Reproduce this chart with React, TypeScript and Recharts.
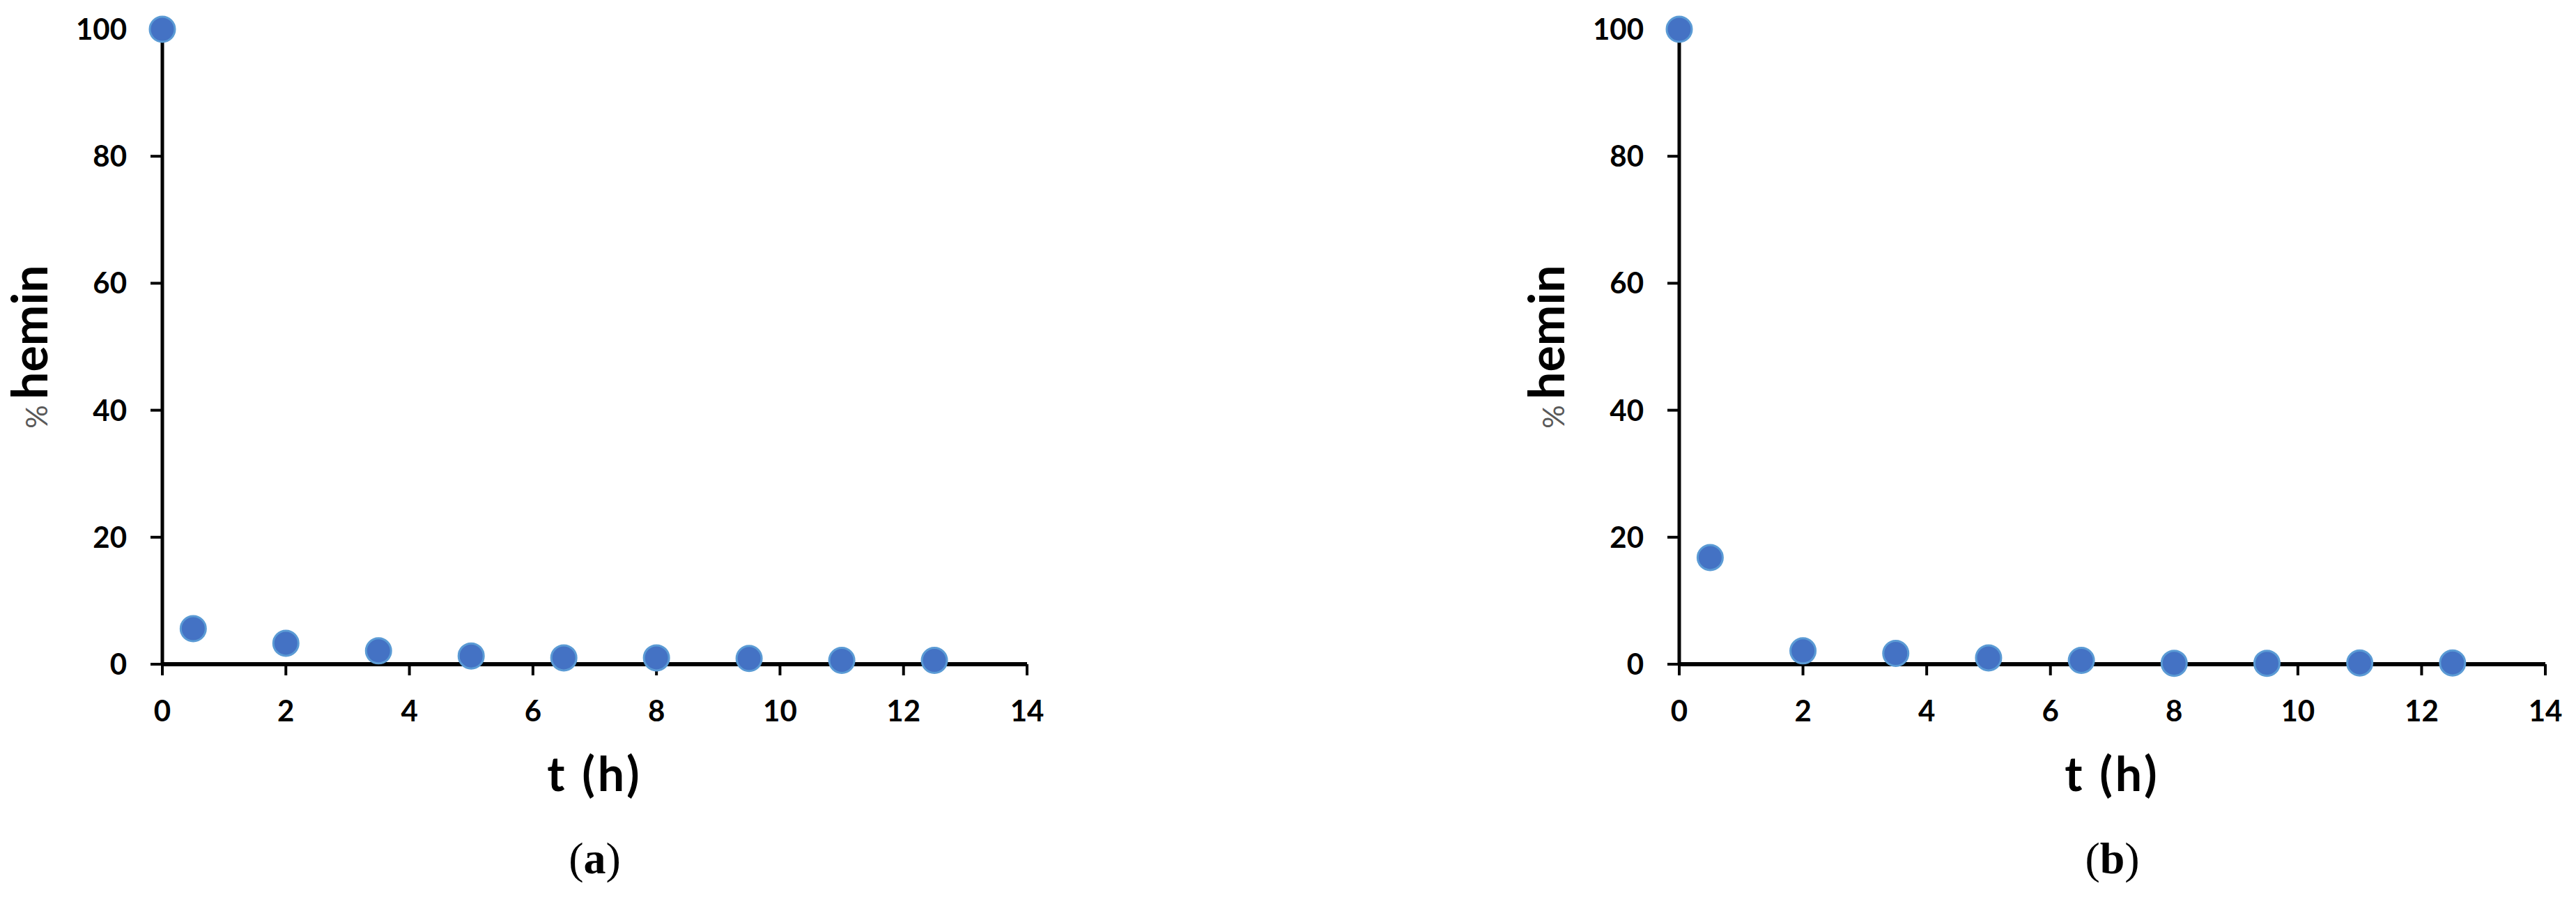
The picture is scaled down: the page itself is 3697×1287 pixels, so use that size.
import { ScatterChart, Scatter, XAxis, YAxis, Label } from "recharts";

const hours = [0, 0.5, 2, 3.5, 5, 6.5, 8, 9.5, 11, 12.5];
const heminA = [100, 5.6, 3.3, 2.1, 1.3, 1.0, 1.0, 0.9, 0.6, 0.6];
const heminB = [100, 16.8, 2.1, 1.7, 1.0, 0.6, 0.15, 0.15, 0.2, 0.2];
const xTicks = [0, 2, 4, 6, 8, 10, 12, 14];
const yTicks = [0, 20, 40, 60, 80, 100];

const tickFont = { fill: "#000", fontSize: 42, fontWeight: 700, fontFamily: "Lato, 'Open Sans', sans-serif" };

const Dot = (props: any) => (
  <circle cx={props.cx} cy={props.cy} r={18} fill="#4472C4" stroke="#5B9BD5" strokeWidth={3} />
);

const YTitle = (props: any) => {
  const vb = props.viewBox || {};
  const x = vb.x + vb.width - 165;
  const y = vb.y + vb.height / 2;
  return (
    <text x={x} y={y} textAnchor="middle" transform={`rotate(-90, ${x}, ${y})`} fontFamily="Lato, sans-serif">
      <tspan fontSize={42} fill="#595959">%</tspan>
      <tspan dx={8} fontSize={70} fontWeight={700} fill="#000">hemin</tspan>
    </text>
  );
};

const makeXTitle = (caption: string) => (props: any) => {
  const vb = props.viewBox || {};
  const cx = vb.x + vb.width / 2;
  return (
    <g>
      <text x={cx} y={1135} textAnchor="middle" fontFamily="Lato, sans-serif" fontSize={68} fontWeight={700} letterSpacing={4} fill="#000">
        t (h)
      </text>
      <text x={cx} y={1253} textAnchor="middle" fontFamily="'Liberation Serif', serif" fontSize={64} fill="#000">
        (<tspan fontWeight={700}>{caption}</tspan>)
      </text>
    </g>
  );
};

function Panel({ values, caption, left, width, marginLeft, marginRight }: any) {
  const data = hours.map((t, i) => ({ t, pct: values[i] }));
  return (
    <div style={{ position: "absolute", left, top: 0 }}>
      <ScatterChart width={width} height={1287} margin={{ top: 42, right: marginRight, bottom: 234, left: marginLeft }}>
        <XAxis
          type="number"
          dataKey="t"
          domain={[0, 14]}
          ticks={xTicks}
          height={100}
          tick={tickFont}
          tickSize={16}
          tickMargin={36}
          tickLine={{ stroke: "#000", strokeWidth: 4 }}
          axisLine={{ stroke: "#000", strokeWidth: 6 }}
        >
          <Label content={makeXTitle(caption)} />
        </XAxis>
        <YAxis
          type="number"
          dataKey="pct"
          domain={[0, 100]}
          ticks={yTicks}
          width={233}
          tick={tickFont}
          tickSize={17}
          tickMargin={34}
          tickLine={{ stroke: "#000", strokeWidth: 4 }}
          axisLine={{ stroke: "#000", strokeWidth: 5 }}
        >
          <Label content={YTitle} />
        </YAxis>
        <Scatter data={data} shape={Dot} isAnimationActive={false} />
      </ScatterChart>
    </div>
  );
}

export default function App() {
  return (
    <div style={{ position: "absolute", left: 0, top: 0, width: 3697, height: 1287, background: "#fff" }}>
      <Panel values={heminA} caption="a" left={0} width={1700} marginLeft={0} marginRight={226} />
      <Panel values={heminB} caption="b" left={1848} width={1849} marginLeft={329} marginRight={44} />
    </div>
  );
}
